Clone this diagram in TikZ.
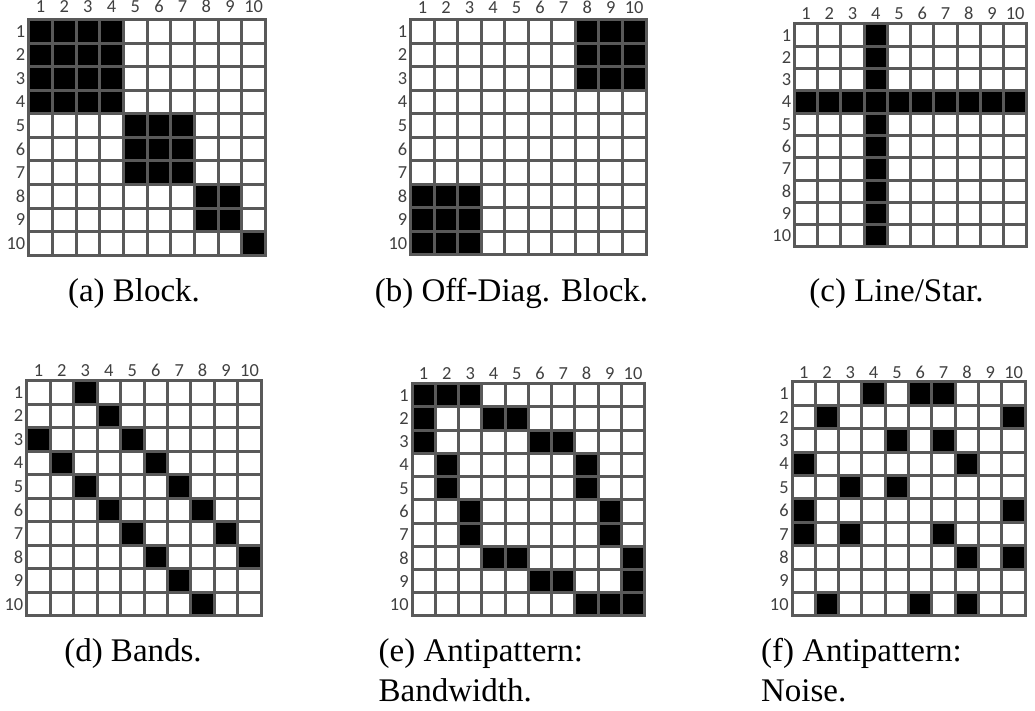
\documentclass[tikz,border=0pt]{standalone}
\usepackage{fontspec}
\setmainfont{Liberation Serif}
\newfontfamily\idxfont{Carlito}

\tikzset{
  gridline/.style={draw=black!65, line width=1.5pt},
  cell/.style={fill=black},
  idx/.style={font=\idxfont\fontsize{9.2}{10}\selectfont, text=black!75, inner sep=1pt},
  subcap/.style={font=\fontsize{16.5}{20}\selectfont, inner sep=0pt}
}

% grid lines and row/column numbers of one 10x10 matrix (cell units)
\newcommand{\matframe}[2]{%
  \foreach \i in {1,...,9} {
    \draw[gridline] (\i,0) -- (\i,10);
    \draw[gridline] (0,\i) -- (10,\i);
  }
  \draw[gridline] (0,0) rectangle (10,10);
  \foreach \i in {1,...,10} {
    \node[idx, anchor=base, yshift=#2] (#1-col\i) at (\i-0.5,0) {\i};
    \node[idx, anchor=east, xshift=-0.5pt] (#1-row\i) at (0,\i-0.5) {\i};
  }
}

\begin{document}
\begin{tikzpicture}[x=0.5pt, y=-0.5pt]
  \useasboundingbox (0,0) rectangle (1035,711);

  % (a) block
  \begin{scope}[shift={(28.7,19.5)}, xscale=23.68, yscale=23.58]
    \fill[cell] (0,0) rectangle (4,4) (4,4) rectangle (7,7)
      (7,7) rectangle (9,9) (9,9) rectangle (10,10);
    \matframe{a}{3.25pt}
  \end{scope}
  \node[subcap, anchor=base] (a-cap) at (134,302) {(a) Block.};

  % (b) off-diagonal block
  \begin{scope}[shift={(410.7,19.5)}, xscale=23.53, yscale=23.55]
    \fill[cell] (7,0) rectangle (10,3) (0,7) rectangle (3,10);
    \matframe{b}{3.1pt}
  \end{scope}
  \node[subcap, anchor=base] (b-cap) at (511.5,302) {(b) Off-Diag. Block.};

  % (c) line / star
  \begin{scope}[shift={(794.5,24)}, xscale=23.23, yscale=22.3]
    \fill[cell] (3,0) rectangle (4,10) (0,3) rectangle (10,4);
    \matframe{c}{2.35pt}
  \end{scope}
  \node[subcap, anchor=base] (c-cap) at (896.5,302) {(c) Line/Star.};

  % (d) bands
  \begin{scope}[shift={(26.7,380.7)}, xscale=23.46, yscale=23.53]
    \foreach \r/\c in {1/3, 2/4, 3/1, 3/5, 4/2, 4/6, 5/3, 5/7, 6/4, 6/8,
                       7/5, 7/9, 8/6, 8/10, 9/7, 10/8} {
      \fill[cell] (\c-1,\r-1) rectangle (\c,\r);
    }
    \matframe{d}{2pt}
  \end{scope}
  \node[subcap, anchor=base] (d-cap) at (133,661.7) {(d) Bands.};

  % (e) antipattern: bandwidth
  \begin{scope}[shift={(412,383.7)}, xscale=23.27, yscale=23.23]
    \foreach \r/\c in {1/1, 1/2, 1/3, 2/1, 2/4, 2/5, 3/1, 3/6, 3/7, 4/2, 4/8,
                       5/2, 5/8, 6/3, 6/9, 7/3, 7/9, 8/4, 8/5, 8/10,
                       9/6, 9/7, 9/10, 10/8, 10/9, 10/10} {
      \fill[cell] (\c-1,\r-1) rectangle (\c,\r);
    }
    \matframe{e}{2.2pt}
  \end{scope}
  \node[subcap, anchor=base west, align=left] (e-cap) at (378.3,701.7)
    {(e) Antipattern:\\Bandwidth.};

  % (f) antipattern: noise
  \begin{scope}[shift={(792,382)}, xscale=23.33, yscale=23.4]
    \foreach \r/\c in {1/4, 1/6, 1/7, 2/2, 2/10, 3/5, 3/7, 4/1, 4/8, 5/3, 5/5,
                       6/1, 6/10, 7/1, 7/3, 7/7, 8/8, 8/10, 10/2, 10/6, 10/8} {
      \fill[cell] (\c-1,\r-1) rectangle (\c,\r);
    }
    \matframe{f}{1.85pt}
  \end{scope}
  \node[subcap, anchor=base west, align=left] (f-cap) at (760.7,701.7)
    {(f) Antipattern:\\Noise.};
\end{tikzpicture}
\end{document}
